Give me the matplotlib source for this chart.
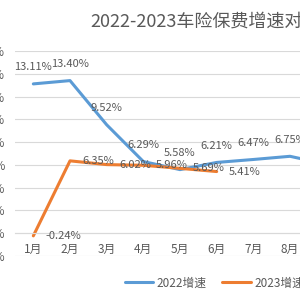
import matplotlib.pyplot as plt

plt.rcParams['font.family'] = ['Noto Sans CJK SC', 'DejaVu Sans']

months = ['1月', '2月', '3月', '4月', '5月', '6月', '7月', '8月', '9月']
growth_2022 = [13.11, 13.40, 9.52, 6.29, 5.58, 6.21, 6.47, 6.75, 6.05]
growth_2023 = [-0.24, 6.35, 6.02, 5.96, 5.69, 5.41]
yticks = [-2, 0, 2, 4, 6, 8, 10, 12, 14, 16]

blue = '#5B9BD5'
orange = '#ED7D31'
txt = '#595959'

fig = plt.figure(figsize=[3, 3], dpi=100)
# plot area runs past the right edge, like the cropped original
ax = fig.add_axes((0.05, 0.147, 1.10, 0.683))

x1 = range(len(growth_2022))
x2 = range(len(growth_2023))
l1, = ax.plot(x1, growth_2022, color=blue, lw=2.2, label='2022增速', solid_capstyle='round')
l2, = ax.plot(x2, growth_2023, color=orange, lw=2.2, label='2023增速', solid_capstyle='round')

for i, v in enumerate(growth_2022):
    ax.annotate(f'{v:.2f}%', (i, v), xytext=(0, 12), textcoords='offset points',
                ha='center', va='center', fontsize=8, color=txt)
for i, v in enumerate(growth_2023):
    ax.annotate(f'{v:.2f}%', (i, v), xytext=(9, 0), textcoords='offset points',
                ha='left', va='center', fontsize=8, color=txt)

ax.set_xlim(-0.5, len(months) - 0.5)
ax.set_ylim(-2, 16)
ax.set_yticks(yticks)
ax.set_yticklabels([f'{t}%' for t in yticks])
ax.set_xticks(list(range(len(months))))
ax.set_xticklabels(months)
ax.grid(axis='y', color='#D9D9D9', lw=0.8)
ax.set_axisbelow(True)
for s in ['top', 'right', 'left']:
    ax.spines[s].set_visible(False)
ax.spines['bottom'].set_position(('data', 0))
ax.spines['bottom'].set_color('#D9D9D9')
ax.tick_params(axis='x', length=0, pad=7, labelsize=8.5, labelcolor=txt)
ax.tick_params(axis='y', length=0, pad=7, labelsize=8.5, labelcolor=txt)

fig.text(0.30, 0.927, '2022-2023车险保费增速对比', ha='left', va='center',
         fontsize=13, color=txt)

fig.legend(handles=[l1, l2], loc='center left', bbox_to_anchor=(0.415, 0.057),
           bbox_transform=fig.transFigure, ncol=2, frameon=False, fontsize=8.5,
           handlelength=2.4, handletextpad=0.35, columnspacing=1.3,
           borderpad=0, borderaxespad=0, labelcolor=txt)

fig.savefig('out.png', dpi=100)
